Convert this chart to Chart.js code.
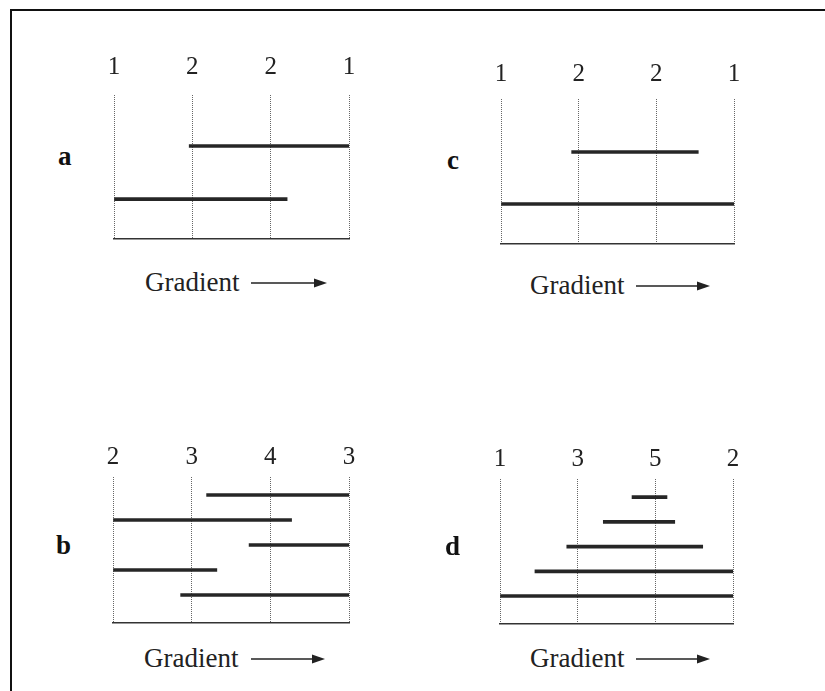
<!DOCTYPE html>
<html>
<head>
<meta charset="utf-8">
<script src="https://cdn.jsdelivr.net/npm/chart.js@4.4.0/dist/chart.umd.min.js"></script>
<style>
  html, body { margin: 0; padding: 0; background: #fff; }
  body { width: 825px; height: 691px; position: relative; overflow: hidden;
         font-family: "Liberation Serif", "Times New Roman", serif; color: #222; }
  #frame { position: absolute; left: 10px; top: 9px; right: -5px; bottom: -5px;
           border-top: 2px solid #111; border-left: 2px solid #111; }
  .box { position: absolute; }
  .letter { position: absolute; font-weight: bold; font-size: 27px; line-height: 1; color: #111; }
  .grad { position: absolute; font-size: 27px; line-height: 1; white-space: nowrap; }
  .arrow { position: absolute; }
</style>
</head>
<body>
<div id="frame"></div>

<script>
// tick labels along the top of each panel
const tickLabelsA = ['1', '2', '2', '1'];
const tickLabelsB = ['2', '3', '4', '3'];
const tickLabelsC = ['1', '2', '2', '1'];
const tickLabelsD = ['1', '3', '5', '2'];

// range of each species along the gradient (0..3), top row first
const startsA = [0.96, 0];
const endsA   = [3, 2.21];

const startsB = [1.19, 0, 1.73, 0, 0.86];
const endsB   = [3, 2.27, 3, 1.32, 3];

const startsC = [0.91, 0];
const endsC   = [2.54, 3];

const startsD = [1.70, 1.33, 0.86, 0.45, 0];
const endsD   = [2.15, 2.25, 2.61, 3, 3];

const serif = '"Liberation Serif", "Times New Roman", serif';

// where each panel sits on the page
const panels = [
  { letter: 'a', labels: tickLabelsA, starts: startsA, ends: endsA,
    left: 114, top: 95, right: 349, bottom: 239, yMin: 0.04, yMax: 2.75, pad: 12.5,
    letterX: 58, letterBase: 166, gradX: 145, gradBase: 292, arrowX: 251, arrowY: 283, arrowLen: 76 },
  { letter: 'b', labels: tickLabelsB, starts: startsB, ends: endsB,
    left: 113, top: 477, right: 349, bottom: 623, yMin: 0.28, yMax: 6.12, pad: 5,
    letterX: 56, letterBase: 555, gradX: 144, gradBase: 668, arrowX: 251, arrowY: 659, arrowLen: 74 },
  { letter: 'c', labels: tickLabelsC, starts: startsC, ends: endsC,
    left: 501, top: 99, right: 734, bottom: 244, yMin: -0.02, yMax: 2.77, pad: 10,
    letterX: 447, letterBase: 170, gradX: 530, gradBase: 295, arrowX: 636, arrowY: 286, arrowLen: 74 },
  { letter: 'd', labels: tickLabelsD, starts: startsD, ends: endsD,
    left: 500, top: 479, right: 733, bottom: 624, yMin: 0.27, yMax: 6.13, pad: 5,
    letterX: 445, letterBase: 556, gradX: 530, gradBase: 668, arrowX: 636, arrowY: 659, arrowLen: 74 }
];

function addText(cls, text, x, top) {
  let el = document.createElement('div');
  el.className = cls;
  el.textContent = text;
  el.style.left = x + 'px';
  el.style.top = top + 'px';
  document.body.appendChild(el);
}

function addArrow(x, y, len) {
  let ns = 'http://www.w3.org/2000/svg';
  let svg = document.createElementNS(ns, 'svg');
  svg.setAttribute('class', 'arrow');
  svg.setAttribute('width', len + 2);
  svg.setAttribute('height', 14);
  svg.style.left = x + 'px';
  svg.style.top = (y - 7) + 'px';
  svg.innerHTML =
    `<line x1="0" y1="7" x2="${len - 11}" y2="7" stroke="#222" stroke-width="1.6"/>` +
    `<polygon points="${len - 13},2.5 ${len},7 ${len - 13},11.5" fill="#222"/>`;
  document.body.appendChild(svg);
}

function makePanel(p) {
  let w = p.right - p.left + 80;
  let h = p.bottom - p.top + 60;

  let box = document.createElement('div');
  box.className = 'box';
  box.style.left = (p.left - 40) + 'px';
  box.style.top = (p.top - 50) + 'px';
  let canvas = document.createElement('canvas');
  canvas.width = w;
  canvas.height = h;
  canvas.style.width = w + 'px';
  canvas.style.height = h + 'px';
  box.appendChild(canvas);
  document.body.appendChild(box);

  let rows = p.starts.map((s, i) => ({ y: i + 1, x: [s, p.ends[i]] }));

  new Chart(canvas, {
    type: 'bar',
    data: {
      datasets: [{
        data: rows,
        xAxisID: 'x',
        yAxisID: 'y',
        backgroundColor: '#262626',
        borderWidth: 0,
        barThickness: 3
      }]
    },
    options: {
      indexAxis: 'y',
      responsive: false,
      animation: false,
      layout: { padding: { left: 40, right: 40, top: 0, bottom: 10 } },
      plugins: { legend: { display: false }, tooltip: { enabled: false } },
      scales: {
        x: {
          type: 'linear',
          position: 'top',
          min: 0,
          max: 3,
          ticks: {
            stepSize: 1,
            padding: p.pad,
            color: '#222',
            font: { family: serif, size: 25 },
            callback: (v, i) => p.labels[i]
          },
          grid: { color: '#666', lineWidth: 1, drawTicks: false },
          border: { display: false, dash: [1, 1] },
          afterFit: s => { s.height = 50; }
        },
        x2: {
          type: 'linear',
          position: 'bottom',
          min: 0,
          max: 3,
          ticks: { display: false },
          grid: { display: false, drawTicks: false },
          border: { display: true, color: '#333', width: 1.6 },
          afterFit: s => { s.height = 0; }
        },
        y: {
          type: 'linear',
          reverse: true,
          offset: false,
          min: p.yMin,
          max: p.yMax,
          display: false
        }
      }
    }
  });

  addText('letter', p.letter, p.letterX, p.letterBase - 22.6);
  addText('grad', 'Gradient', p.gradX, p.gradBase - 22.6);
  addArrow(p.arrowX, p.arrowY, p.arrowLen);
}

panels.forEach(makePanel);
</script>
</body>
</html>
